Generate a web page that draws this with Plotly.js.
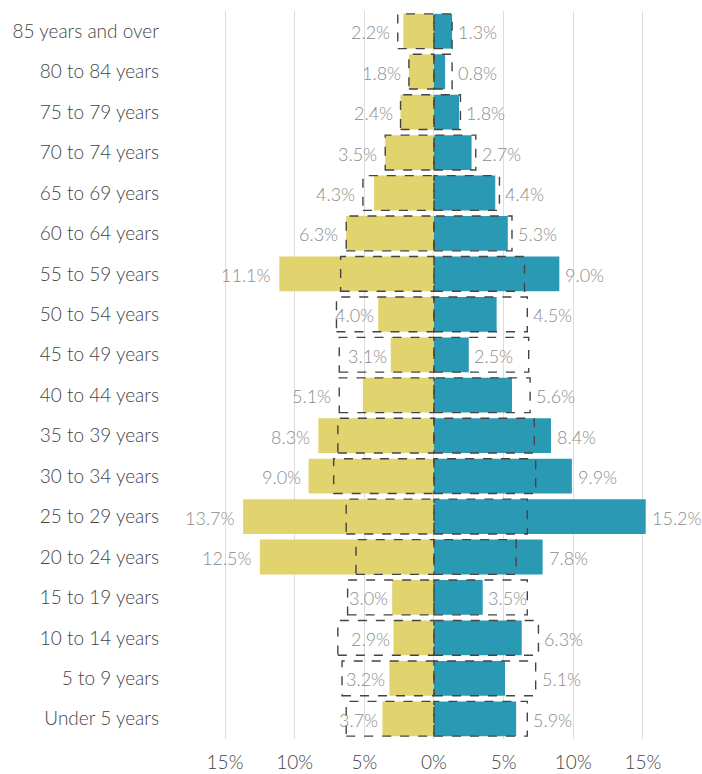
<!DOCTYPE html>
<html>
<head>
<meta charset="utf-8">
<script src="https://cdn.plot.ly/plotly-3.0.1.min.js"></script>
<style>html,body{margin:0;padding:0;background:#fff;}#chart{width:702px;height:774px;}</style>
</head>
<body>
<div id="chart"></div>
<script>
// Age groups, top to bottom
const ageGroups = ["85 years and over","80 to 84 years","75 to 79 years","70 to 74 years","65 to 69 years","60 to 64 years","55 to 59 years","50 to 54 years","45 to 49 years","40 to 44 years","35 to 39 years","30 to 34 years","25 to 29 years","20 to 24 years","15 to 19 years","10 to 14 years","5 to 9 years","Under 5 years"];
// Local share (%) by sex
const femalePct = [2.2,1.8,2.4,3.5,4.3,6.3,11.1,4.0,3.1,5.1,8.3,9.0,13.7,12.5,3.0,2.9,3.2,3.7];
const malePct   = [1.3,0.8,1.8,2.7,4.4,5.3,9.0,4.5,2.5,5.6,8.4,9.9,15.2,7.8,3.5,6.3,5.1,5.9];
// Comparison share (%) shown as dashed outlines
const femaleRef = [2.6,1.8,2.4,3.5,5.1,6.3,6.7,7.0,6.8,6.8,6.9,7.2,6.3,5.6,6.2,6.9,6.6,6.3];
const maleRef   = [1.3,1.3,1.9,3.0,4.7,5.6,6.5,6.7,6.8,6.9,7.2,7.3,6.7,5.9,6.7,7.5,7.3,6.7];
// Axis ticks
const tickVals = [-15,-10,-5,0,5,10,15];
const tickText = ["15%","10%","5%","0%","5%","10%","15%"];

const FONT = "Lato, 'Source Sans Pro', 'Open Sans', sans-serif";
const yellow = "#E1D36E", teal = "#2A9AB4";
const n = ageGroups.length;
const yIdx = ageGroups.map((_, i) => n - 1 - i); // top row first

const traces = [
  {type:"bar", orientation:"h", y:yIdx, x:femalePct.map(v => -v), base:0,
   marker:{color:yellow}, width:0.86, hoverinfo:"skip", name:"Female"},
  {type:"bar", orientation:"h", y:yIdx, x:malePct, base:0,
   marker:{color:teal}, width:0.86, hoverinfo:"skip", name:"Male"}
];

const half = 0.43;
const shapes = [];
const annotations = [];
const labelFont = {family:FONT, size:18, color:"#8c8c8c", weight:300};
ageGroups.forEach((g, i) => {
  const y = yIdx[i];
  shapes.push({type:"rect", xref:"x", yref:"y", x0:-femaleRef[i], x1:0, y0:y-half, y1:y+half,
    line:{color:"#444", width:1.4, dash:"dash"}, fillcolor:"rgba(0,0,0,0)", layer:"above"});
  shapes.push({type:"rect", xref:"x", yref:"y", x0:0, x1:maleRef[i], y0:y-half, y1:y+half,
    line:{color:"#444", width:1.4, dash:"dash"}, fillcolor:"rgba(0,0,0,0)", layer:"above"});
  // female label
  const fInside = femaleRef[i] - femalePct[i] > 2.4;
  const fx = fInside ? -femalePct[i] : -Math.max(femalePct[i], femaleRef[i]);
  annotations.push({x:fx, y:y, xref:"x", yref:"y", text:femalePct[i].toFixed(1)+"%",
    showarrow:false, xanchor:"right", xshift: fInside ? -2 : -6, yshift:-1, font:labelFont});
  const mInside = maleRef[i] - malePct[i] > 2.4;
  const mx = mInside ? malePct[i] : Math.max(malePct[i], maleRef[i]);
  annotations.push({x:mx, y:y, xref:"x", yref:"y", text:malePct[i].toFixed(1)+"%",
    showarrow:false, xanchor:"left", xshift: mInside ? 3 : 4, yshift:-1, font:labelFont});
});

const axisFont = {family:FONT, size:19, color:"#444", weight:300};
const layout = {
  width:702, height:774,
  margin:{l:170, r:12, t:11, b:35},
  paper_bgcolor:"#fff", plot_bgcolor:"#fff",
  barmode:"overlay", bargap:0.14, showlegend:false,
  font:axisFont,
  xaxis:{range:[-18.95, 18.38], tickvals:tickVals, ticktext:tickText, showgrid:true,
         gridcolor:"#dddddd", gridwidth:1, zeroline:false, showline:false, ticks:"",
         ticklabelstandoff:10, tickfont:axisFont, fixedrange:true},
  yaxis:{range:[-0.5, n-0.5], tickvals:yIdx, ticktext:ageGroups, showgrid:false, zeroline:false,
         showline:false, ticks:"", ticklabelstandoff:10, tickfont:axisFont, fixedrange:true},
  shapes:shapes, annotations:annotations
};
Plotly.newPlot("chart", traces, layout, {displayModeBar:false, staticPlot:true});
</script>
</body>
</html>
